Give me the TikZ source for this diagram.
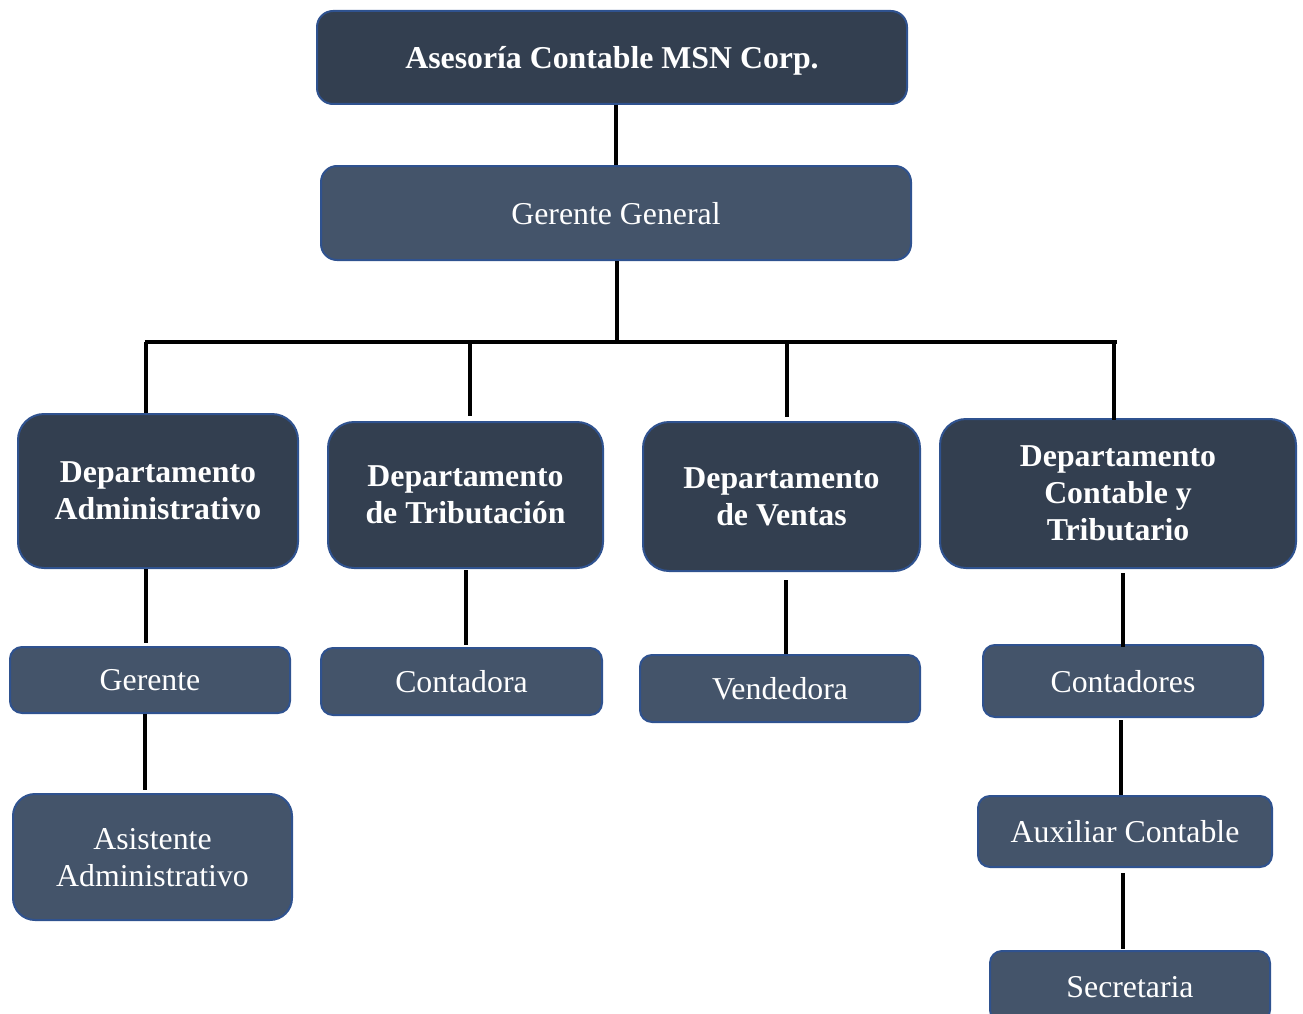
\documentclass[tikz,border=0pt]{standalone}
\usepackage{fontspec}
\setmainfont{Liberation Serif}
\definecolor{darkbox}{HTML}{333F50}
\definecolor{lightbox}{HTML}{44546A}
\definecolor{edgeblue}{HTML}{2F528F}
\tikzset{
  base/.style={draw=edgeblue, line width=2pt, text=white, inner sep=0pt, align=center,
    text depth=-6pt, font=\fontsize{31.8}{37}\selectfont},
  topbox/.style={base, fill=darkbox, rounded corners=16pt, font=\fontsize{31.8}{37}\selectfont\bfseries},
  deptbox/.style={base, fill=darkbox, rounded corners=26pt, font=\fontsize{31.8}{37}\selectfont\bfseries},
  rolebox/.style={base, fill=lightbox, rounded corners=12pt},
  bigrole/.style={base, fill=lightbox, rounded corners=22pt},
  link/.style={line width=4pt, black}
}
\begin{document}
\begin{tikzpicture}[x=1pt,y=-1pt]
\useasboundingbox (0,0) rectangle (1303,1014);
% top level
\node[topbox, text depth=-3pt, minimum width=590pt, minimum height=93pt] (top) at (612,57.5) {Asesoría Contable MSN Corp.};
\node[rolebox, rounded corners=16pt, minimum width=590pt, minimum height=94pt] (gg) at (616,213) {Gerente General};
% departments
\node[deptbox, minimum width=280pt, minimum height=154pt] (dadm) at (158,491) {Departamento\\Administrativo};
\node[deptbox, minimum width=275pt, minimum height=146pt] (dtri) at (465.5,495) {Departamento\\de Tributación};
\node[deptbox, minimum width=277pt, minimum height=149pt] (dven) at (781.5,496.5) {Departamento\\de Ventas};
\node[deptbox, minimum width=356pt, minimum height=149pt] (dcon) at (1118,493.5) {Departamento\\Contable y\\Tributario};
% roles
\node[rolebox, minimum width=280pt, minimum height=66pt] (ger) at (150,680) {Gerente};
\node[bigrole, minimum width=279pt, minimum height=126pt] (asis) at (152.5,857) {Asistente\\Administrativo};
\node[rolebox, minimum width=281pt, minimum height=67pt] (ctda) at (461.5,681.5) {Contadora};
\node[rolebox, minimum width=280pt, minimum height=67pt] (vend) at (780,688.5) {Vendedora};
\node[rolebox, minimum width=280pt, minimum height=72pt] (ctdo) at (1123,681) {Contadores};
\node[rolebox, minimum width=294pt, minimum height=71pt] (aux) at (1125,831.5) {Auxiliar Contable};
\node[rolebox, minimum width=280pt, minimum height=71pt] (sec) at (1130,986.5) {Secretaria};
% bus coordinates
\coordinate (busL) at (145,342);
\coordinate (busR) at (1117,342);
\coordinate (busM) at (617,342);
% connectors
\draw[link] (top.south -| 616,0) -- (gg.north -| 616,0);
\draw[link] (gg.south -| busM) -- (busM);
\draw[link] (busL) -- (busR);
\draw[link] (146,342) -- (dadm.north -| 146,0);
\draw[link] (470,342) -- (470,416);
\draw[link] (787,342) -- (787,417);
\draw[link] (1114,342) -- (1114,420);
\draw[link] (dadm.south -| 146,0) -- (146,643);
\draw[link] (ger.south -| 145,0) -- (145,790);
\draw[link] (466,570) -- (466,645);
\draw[link] (786,580) -- (vend.north -| 786,0);
\draw[link] (1123,573) -- (1123,647);
\draw[link] (1121,720) -- (aux.north -| 1121,0);
\draw[link] (1123,873) -- (1123,949);
\end{tikzpicture}
\end{document}
